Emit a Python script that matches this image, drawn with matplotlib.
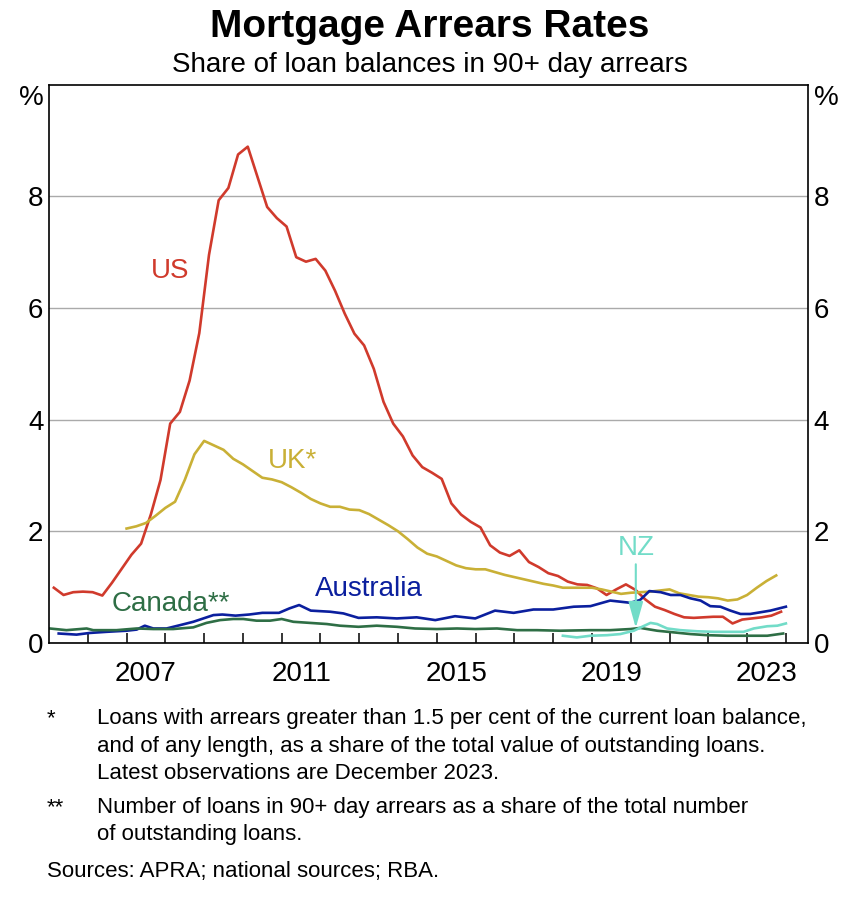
import matplotlib
matplotlib.use("Agg")
import matplotlib.pyplot as plt
import numpy as np

plt.rcParams['font.family'] = ['Liberation Sans', 'DejaVu Sans']

# US, quarterly (plotted mid-quarter)
us_dates = np.arange(2005.125, 2024.0, 0.25)
us = [0.99, 0.86, 0.91, 0.92,
      0.91, 0.85, 1.08, 1.33,
      1.58, 1.78, 2.30, 2.92,
      3.93, 4.14, 4.70, 5.55,
      6.95, 7.93, 8.15, 8.75,
      8.89, 8.35, 7.81, 7.61,
      7.46, 6.91, 6.83, 6.88,
      6.67, 6.31, 5.90, 5.54,
      5.33, 4.91, 4.32, 3.93,
      3.70, 3.36, 3.15, 3.05,
      2.94, 2.50, 2.30, 2.17,
      2.07, 1.75, 1.62, 1.56,
      1.66, 1.45, 1.36, 1.25,
      1.20, 1.10, 1.05, 1.04,
      0.98, 0.86, 0.96, 1.05,
      0.95, 0.78, 0.65, 0.59,
      0.52, 0.46, 0.45, 0.46,
      0.47, 0.47, 0.35, 0.42,
      0.44, 0.46, 0.49, 0.56]

# UK, quarterly
uk_dates = np.arange(2007.0, 2023.8, 0.25)
uk = [2.05, 2.09, 2.15, 2.28,
      2.42, 2.53, 2.92, 3.38,
      3.62, 3.54, 3.46, 3.30,
      3.20, 3.08, 2.96, 2.93,
      2.88, 2.79, 2.69, 2.58,
      2.50, 2.44, 2.44, 2.39,
      2.38, 2.31, 2.21, 2.11,
      2.00, 1.86, 1.71, 1.60,
      1.55, 1.47, 1.39, 1.34,
      1.32, 1.32, 1.27, 1.22,
      1.18, 1.14, 1.10, 1.06,
      1.03, 0.99, 0.99, 0.99,
      0.99, 0.96, 0.92, 0.88,
      0.90, 0.91, 0.92, 0.94,
      0.96, 0.89, 0.86, 0.83,
      0.82, 0.80, 0.76, 0.78,
      0.86, 0.99, 1.11, 1.21]

au_dates = [2005.25, 2005.71, 2006.05, 2006.48, 2007.0, 2007.26, 2007.47, 2007.69,
            2008.03, 2008.38, 2008.72, 2008.98, 2009.24, 2009.47, 2009.81, 2010.16,
            2010.50, 2010.93, 2011.20, 2011.45, 2011.75, 2012.25, 2012.59, 2012.98,
            2013.45, 2013.97, 2014.48, 2014.96, 2015.47, 2015.99, 2016.50, 2016.98,
            2017.49, 2018.00, 2018.53, 2018.96, 2019.47, 2019.99, 2020.24, 2020.48,
            2020.77, 2021.03, 2021.28, 2021.54, 2021.80, 2022.05, 2022.31, 2022.57,
            2022.83, 2023.08, 2023.34, 2023.60, 2024.00]
au = [0.17, 0.15, 0.18, 0.20, 0.22, 0.24, 0.31, 0.26,
      0.26, 0.32, 0.38, 0.44, 0.50, 0.51, 0.49, 0.51,
      0.54, 0.54, 0.62, 0.68, 0.58, 0.56, 0.53, 0.45,
      0.46, 0.44, 0.46, 0.41, 0.48, 0.44, 0.58, 0.54,
      0.60, 0.60, 0.65, 0.66, 0.76, 0.72, 0.77, 0.93,
      0.91, 0.86, 0.86, 0.80, 0.76, 0.66, 0.65, 0.58,
      0.52, 0.52, 0.55, 0.58, 0.65]

ca_dates = [2005.02, 2005.45, 2005.97, 2006.14, 2006.74, 2007.26, 2007.69, 2008.20,
            2008.72, 2009.06, 2009.41, 2009.75, 2010.01, 2010.35, 2010.70, 2011.00,
            2011.30, 2011.73, 2012.16, 2012.50, 2012.98, 2013.45, 2013.97, 2014.44,
            2015.00, 2015.52, 2015.99, 2016.55, 2017.07, 2017.58, 2018.18, 2018.96,
            2019.47, 2019.99, 2020.25, 2020.42, 2020.68, 2021.11, 2021.54, 2021.97,
            2022.48, 2023.00, 2023.52, 2023.93]
ca = [0.26, 0.23, 0.26, 0.23, 0.23, 0.26, 0.25, 0.25,
      0.28, 0.36, 0.41, 0.43, 0.43, 0.40, 0.40, 0.43,
      0.38, 0.36, 0.34, 0.31, 0.29, 0.31, 0.29, 0.26,
      0.25, 0.26, 0.25, 0.26, 0.23, 0.23, 0.22, 0.23,
      0.23, 0.25, 0.27, 0.25, 0.22, 0.19, 0.16, 0.14,
      0.13, 0.13, 0.13, 0.17]

nz_dates = [2018.25, 2018.61, 2018.96, 2019.39, 2019.73, 2020.08, 2020.29, 2020.51,
            2020.68, 2020.94, 2021.28, 2021.71, 2022.14, 2022.57, 2022.91, 2023.17,
            2023.52, 2023.78, 2024.00]
nz = [0.13, 0.10, 0.13, 0.14, 0.16, 0.22, 0.29, 0.36,
      0.34, 0.26, 0.23, 0.21, 0.20, 0.20, 0.20, 0.26,
      0.30, 0.31, 0.35]

c_us = '#d03a2c'
c_uk = '#c9b036'
c_au = '#0b1f9e'
c_ca = '#2e6e45'
c_nz = '#72dcc8'

W, H = 860, 898
fig = plt.figure(figsize=(W / 100, H / 100), dpi=100)
ax = fig.add_axes([49 / W, 1 - 643 / H, (808 - 49) / W, (643 - 84.7) / H])

lw = 1.9
ax.plot(us_dates, us, color=c_us, lw=lw)
ax.plot(uk_dates, uk, color=c_uk, lw=lw)
ax.plot(au_dates, au, color=c_au, lw=lw)
ax.plot(ca_dates, ca, color=c_ca, lw=lw)
ax.plot(nz_dates, nz, color=c_nz, lw=lw)

ax.set_xlim(2005.0, 2024.57)
ax.set_ylim(0, 10)

# series labels
fs = 20
ax.text(2008.12, 6.67, 'US', color=c_us, fontsize=fs, ha='center', va='center')
ax.text(2011.27, 3.26, 'UK*', color=c_uk, fontsize=fs, ha='center', va='center')
ax.text(2013.26, 0.97, 'Australia', color=c_au, fontsize=fs, ha='center', va='center')
ax.text(2008.13, 0.70, 'Canada**', color=c_ca, fontsize=fs, ha='center', va='center')
ax.text(2020.13, 1.70, 'NZ', color=c_nz, fontsize=fs, ha='center', va='center')
ax.annotate('', xy=(2020.13, 0.27), xytext=(2020.13, 1.41),
            arrowprops=dict(arrowstyle='-|>,head_length=1.6,head_width=0.45',
                            color=c_nz, lw=1.5, shrinkA=0, shrinkB=0,
                            mutation_scale=10))

# y axis
ax.set_yticks([0, 2, 4, 6, 8])
ax.yaxis.grid(True, color='#aaaaaa', lw=1.0)
ax.set_axisbelow(True)
ax.tick_params(axis='y', length=0, labelsize=fs, pad=4,
               labelleft=True, labelright=True)

# x axis: year ticks inside, labels centred mid-year
ax.set_xticks(np.arange(2006, 2025, 1))
ax.set_xticklabels([])
ax.tick_params(axis='x', which='major', direction='in', length=7, width=1.1,
               color='black')
ax.set_xticks([2007.5, 2011.5, 2015.5, 2019.5, 2023.5], minor=True)
ax.set_xticklabels(['2007', '2011', '2015', '2019', '2023'], minor=True)
ax.tick_params(axis='x', which='minor', length=0, labelsize=fs, pad=13)

for s in ax.spines.values():
    s.set_linewidth(1.2)
    s.set_color('black')

fig.text(44 / W, 1 - 98 / H, '%', fontsize=fs, ha='right', va='center')
fig.text(814 / W, 1 - 98 / H, '%', fontsize=fs, ha='left', va='center')

fig.text(0.5, 1 - 37 / H, 'Mortgage Arrears Rates', fontsize=28,
         weight='bold', ha='center', va='baseline')
fig.text(0.5, 1 - 72 / H, 'Share of loan balances in 90+ day arrears',
         fontsize=20, ha='center', va='baseline')

# notes
nfs = 16
notes = [
    (47, 97, 724, '*', 'Loans with arrears greater than 1.5 per cent of the current loan balance,'),
    (47, 97, 752, '', 'and of any length, as a share of the total value of outstanding loans.'),
    (47, 97, 779, '', 'Latest observations are December 2023.'),
    (47, 97, 813, '**', 'Number of loans in 90+ day arrears as a share of the total number'),
    (47, 97, 840, '', 'of outstanding loans.'),
]
for xs, xt, yb, mark, txt in notes:
    if mark:
        fig.text(xs / W, 1 - yb / H, mark, fontsize=nfs, ha='left', va='baseline')
    fig.text(xt / W, 1 - yb / H, txt, fontsize=nfs, ha='left', va='baseline')
fig.text(47 / W, 1 - 877 / H, 'Sources: APRA; national sources; RBA.',
         fontsize=nfs, ha='left', va='baseline')

fig.savefig('out.png', dpi=100)
